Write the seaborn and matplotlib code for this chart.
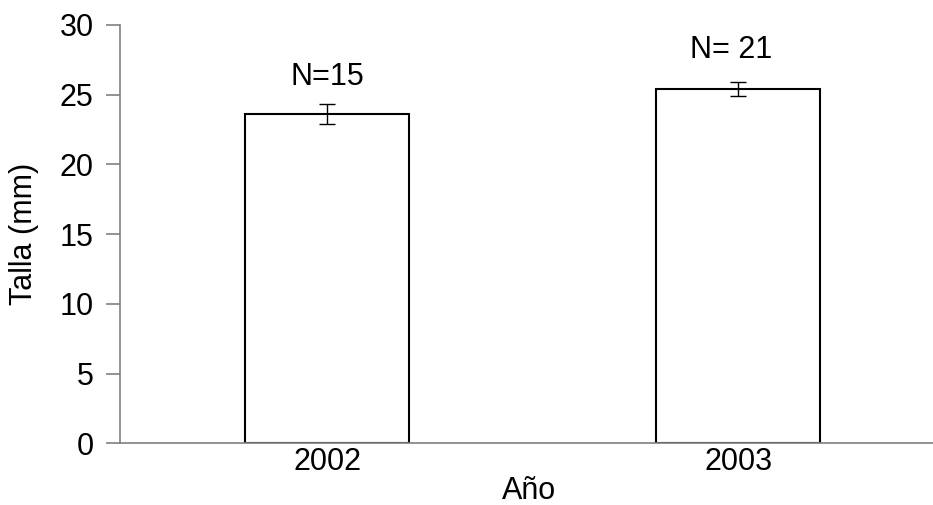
import matplotlib
matplotlib.use("Agg")
import matplotlib.pyplot as plt
import pandas as pd
import seaborn as sns

# datos
anios = ["2002", "2003"]
talla_media = [23.6, 25.4]
talla_error = [0.7, 0.5]
etiquetas_n = ["N=15", "N= 21"]

sns.set_theme(style="white")
plt.rcParams["font.family"] = ["Liberation Sans", "DejaVu Sans"]
plt.rcParams["text.color"] = "black"
plt.rcParams["xtick.color"] = "black"
plt.rcParams["ytick.color"] = "black"
plt.rcParams["axes.labelcolor"] = "black"

df = pd.DataFrame({"Año": anios, "Talla": talla_media})

fig = plt.figure(figsize=(9.33, 5.05), dpi=100)
ax = fig.add_axes([120 / 933, 61.7 / 505, 813 / 933, 418.3 / 505])

sns.barplot(data=df, x="Año", y="Talla", color="white", edgecolor="black",
            linewidth=1.5, width=0.4, saturation=1, ax=ax)
ax.errorbar(range(len(anios)), talla_media, yerr=talla_error, fmt="none",
            ecolor="black", elinewidth=1.0, capsize=5.5, capthick=1.0)

# etiquetas N sobre las barras
ax.text(0, 26.3, etiquetas_n[0], ha="center", va="center", fontsize=22)
ax.text(0.983, 28.2, etiquetas_n[1], ha="center", va="center", fontsize=22)

ax.set_xlim(-0.504, 1.474)
ax.set_ylim(0, 30)
ax.set_yticks(range(0, 31, 5))

for s in ["top", "right"]:
    ax.spines[s].set_visible(False)
for s in ["left", "bottom"]:
    ax.spines[s].set_color("#808080")
    ax.spines[s].set_linewidth(1.2)

ax.tick_params(axis="y", left=True, length=10, width=1.2, color="#808080",
               direction="out", labelsize=22, pad=9)
ax.tick_params(axis="x", bottom=False, labelsize=22, pad=-3)

ax.set_xlabel("Año", fontsize=22, va="center")
ax.set_ylabel("Talla (mm)", fontsize=22, va="center")
ax.xaxis.set_label_coords(0.503, -0.113)
ax.yaxis.set_label_coords(-0.118, 0.5)

fig.savefig("out.png", dpi=100)
